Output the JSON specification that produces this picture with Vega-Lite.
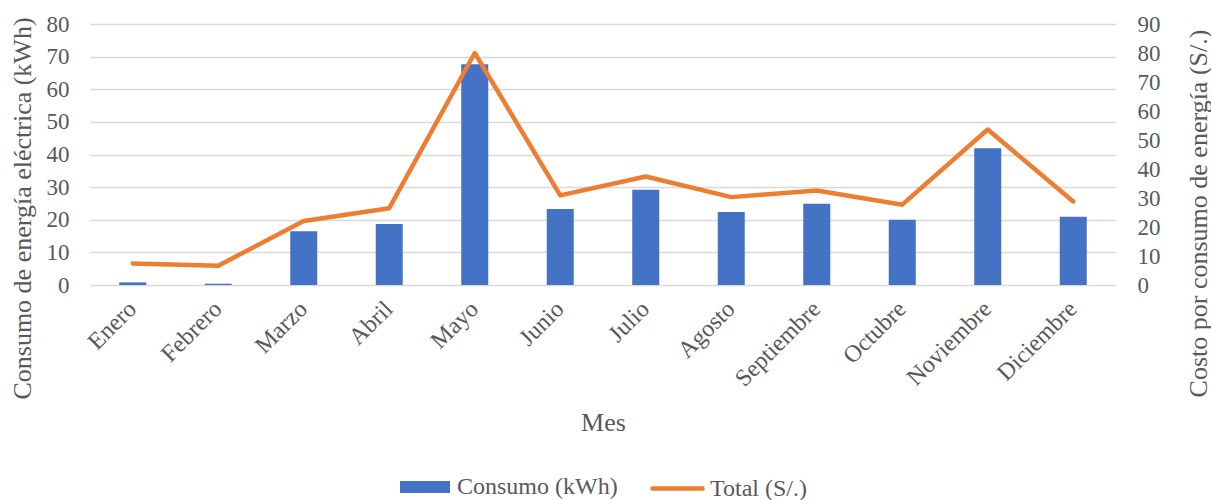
{
  "$schema": "https://vega.github.io/schema/vega-lite/v6.json",
  "width": 1026,
  "height": 261,
  "autosize": {"type": "none"},
  "padding": {"left": 90, "top": 24, "right": 95, "bottom": 215},
  "config": {
    "font": "Liberation Serif",
    "view": {"stroke": null},
    "axis": {"labelColor": "#595959", "titleColor": "#595959", "labelFont": "Liberation Serif", "titleFont": "Liberation Serif", "labelFontSize": 23, "titleFontSize": 26, "titleFontWeight": "normal"},
    "legend": {"labelColor": "#595959", "labelFont": "Liberation Serif", "labelFontSize": 24, "labelLimit": 400,
      "layout": {"bottom": {"anchor": "middle", "direction": "horizontal", "margin": 32}}}
  },
  "data": {"values": [
    {"Mes": "Enero", "Consumo": 0.8, "Total": 7.45},
    {"Mes": "Febrero", "Consumo": 0.4, "Total": 6.65},
    {"Mes": "Marzo", "Consumo": 16.5, "Total": 22.1},
    {"Mes": "Abril", "Consumo": 18.7, "Total": 26.5},
    {"Mes": "Mayo", "Consumo": 67.7, "Total": 80.0},
    {"Mes": "Junio", "Consumo": 23.3, "Total": 30.9},
    {"Mes": "Julio", "Consumo": 29.2, "Total": 37.4},
    {"Mes": "Agosto", "Consumo": 22.4, "Total": 30.3},
    {"Mes": "Septiembre", "Consumo": 24.9, "Total": 32.6},
    {"Mes": "Octubre", "Consumo": 20.0, "Total": 27.7},
    {"Mes": "Noviembre", "Consumo": 41.9, "Total": 53.6},
    {"Mes": "Diciembre", "Consumo": 20.9, "Total": 28.8}
  ]},
  "encoding": {
    "x": {"field": "Mes", "type": "nominal", "sort": null,
      "scale": {"paddingInner": 0.684, "paddingOuter": 0.342},
      "axis": {"labelAngle": -45, "labelBaseline": "middle", "labelFontSize": 24, "domain": false, "ticks": false, "grid": false, "labelPadding": 20, "title": "Mes", "titleY": 137, "titleBaseline": "middle"}}
  },
  "layer": [
    {
      "mark": {"type": "bar", "color": "#4472C4"},
      "encoding": {
        "y": {"field": "Consumo", "type": "quantitative",
          "scale": {"domain": [0, 80]},
          "axis": {"title": "Consumo de energía eléctrica (kWh)", "values": [0,10,20,30,40,50,60,70,80], "domain": false, "ticks": false, "gridColor": "#d9d9d9", "gridWidth": 1.5, "labelPadding": 21, "titleX": -68, "titleY": 184, "titleAngle": -90, "titleBaseline": "middle", "titleAlign": "center"}},
        "color": {"datum": "Consumo (kWh)", "scale": {"range": ["#4472C4"]},
          "legend": {"title": null, "orient": "bottom", "symbolType": "M-1,-0.24H1V0.24H-1Z", "symbolSize": 2500, "symbolOpacity": 1, "labelOffset": 6, "offset": 26}}
      }
    },
    {
      "mark": {"type": "line", "strokeWidth": 4.5, "strokeCap": "round", "strokeJoin": "round"},
      "encoding": {
        "y": {"field": "Total", "type": "quantitative",
          "scale": {"domain": [0, 90]},
          "axis": {"title": "Costo por consumo de energía (S/.)", "orient": "right", "values": [0,10,20,30,40,50,60,70,80,90], "domain": false, "ticks": false, "grid": false, "labelPadding": 21, "titleX": 82, "titleY": 189, "titleAngle": -90, "titleBaseline": "middle", "titleAlign": "center"}},
        "stroke": {"datum": "Total (S/.)", "scale": {"range": ["#ED7D31"]},
          "legend": {"title": null, "orient": "bottom", "symbolType": "stroke", "symbolSize": 2500, "symbolStrokeWidth": 4.5, "labelOffset": 5, "offset": 26,
            "encode": {"symbols": {"update": {"strokeCap": {"value": "round"}}}}}}
      }
    }
  ],
  "resolve": {"scale": {"y": "independent", "color": "independent", "stroke": "independent"}}
}
